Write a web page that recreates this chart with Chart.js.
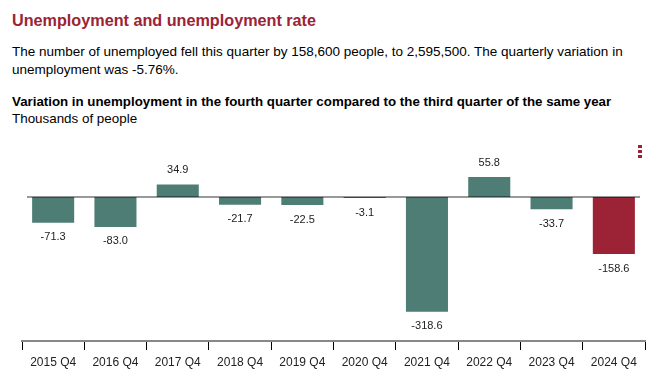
<!DOCTYPE html>
<html>
<head>
  <meta charset="utf-8">
  <title>Unemployment and unemployment rate</title>
  <script src="https://cdn.jsdelivr.net/npm/chart.js@4.4.1/dist/chart.umd.min.js"></script>
  <style>
    body { margin: 0; background: #fff; color: #000; font-family: "Liberation Sans", Arial, sans-serif; }
    h2 { position: absolute; left: 12px; top: 11px; margin: 0; font-size: 16.2px; font-weight: bold; color: #9b2335; }
    .intro { position: absolute; left: 12px; top: 43px; width: 640px; margin: 0; font-size: 13.5px; line-height: 18px; }
    .sub { position: absolute; left: 12px; top: 93px; margin: 0; font-size: 13.4px; line-height: 17px; }
    .sub b { font-size: 13.3px; }
    .menu { position: absolute; left: 638px; top: 145px; width: 4px; }
    .menu span { display: block; width: 4px; height: 3px; margin-bottom: 2px; background: #9b2335; }
    #wrap { position: absolute; left: 0; top: 142px; width: 670px; height: 237px; }
  </style>
</head>
<body>
  <h2>Unemployment and unemployment rate</h2>
  <p class="intro">The number of unemployed fell this quarter by 158,600 people, to 2,595,500. The quarterly variation in unemployment was -5.76%.</p>
  <p class="sub"><b>Variation in unemployment in the fourth quarter compared to the third quarter of the same year</b><br>Thousands of people</p>

  <div id="wrap"><canvas id="myChart"></canvas></div>
  <div class="menu"><span></span><span></span><span></span></div>

  <script>
    // thousands of people, Q4 vs Q3
    let quarters = ['2015 Q4', '2016 Q4', '2017 Q4', '2018 Q4', '2019 Q4', '2020 Q4', '2021 Q4', '2022 Q4', '2023 Q4', '2024 Q4'];
    let variation = [-71.3, -83.0, 34.9, -21.7, -22.5, -3.1, -318.6, 55.8, -33.7, -158.6];
    let barColors = ['#4e7d76', '#4e7d76', '#4e7d76', '#4e7d76', '#4e7d76', '#4e7d76', '#4e7d76', '#4e7d76', '#4e7d76', '#9b2335'];

    let fontFam = '"Liberation Sans", Arial, sans-serif';

    // grey line at zero, drawn over the bars
    let zeroLine = {
      id: 'zeroLine',
      afterDatasetsDraw(chart) {
        let c = chart.ctx, a = chart.chartArea;
        let y = chart.scales.y.getPixelForValue(0);
        c.save();
        c.strokeStyle = 'rgba(0,0,0,0.4)';
        c.lineWidth = 2;
        c.beginPath();
        c.moveTo(a.left + 5, y);
        c.lineTo(a.right - 5, y);
        c.stroke();
        c.restore();
      }
    };

    // value above / below each bar
    let valueLabels = {
      id: 'valueLabels',
      afterDraw(chart) {
        let c = chart.ctx;
        let bars = chart.getDatasetMeta(0).data;
        c.save();
        c.font = '11px ' + fontFam;
        c.fillStyle = '#222';
        c.textAlign = 'center';
        c.textBaseline = 'middle';
        bars.forEach((bar, i) => {
          let v = variation[i];
          let y = v >= 0 ? bar.y - 14 : bar.y + 14.5;
          c.fillText(v.toFixed(1), bar.x, y);
        });
        c.restore();
      }
    };

    var ctx = document.getElementById('myChart').getContext('2d');
    var myChart = new Chart(ctx, {
      type: 'bar',
      data: {
        labels: quarters,
        datasets: [{
          data: variation,
          backgroundColor: barColors,
          borderWidth: 0,
          categoryPercentage: 1,
          barPercentage: 0.675
        }]
      },
      options: {
        responsive: true,
        maintainAspectRatio: false,
        animation: false,
        layout: { padding: { left: 22, right: 25, top: 19, bottom: 4.6 } },
        plugins: { legend: { display: false }, tooltip: { enabled: false } },
        scales: {
          x: {
            grid: { display: true, offset: true, drawOnChartArea: false, drawTicks: true, tickLength: 9, color: '#000', lineWidth: 1 },
            border: { display: true, color: '#888', width: 2 },
            ticks: { color: '#222', font: { size: 12, family: fontFam }, padding: 5, maxRotation: 0, autoSkip: false }
          },
          y: {
            display: false,
            min: -400,
            max: 100
          }
        }
      },
      plugins: [zeroLine, valueLabels]
    });
  </script>
</body>
</html>
